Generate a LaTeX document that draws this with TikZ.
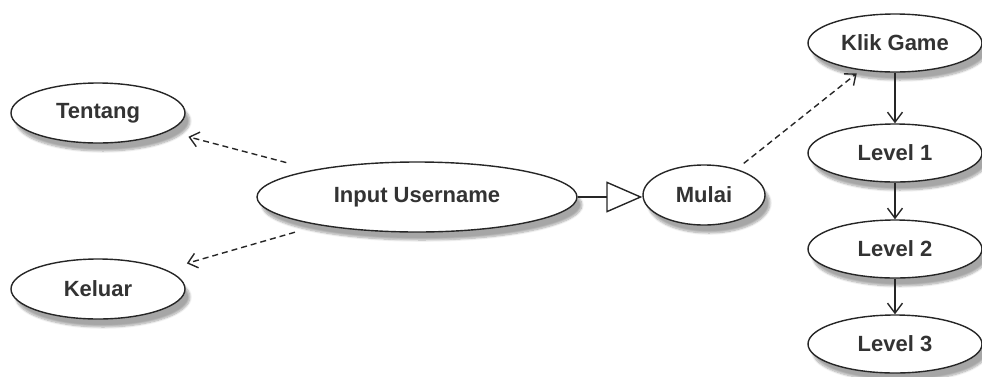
\documentclass[tikz,border=0pt]{standalone}
\usepackage{fontspec}
\setmainfont{Liberation Sans}
\usetikzlibrary{shapes.geometric,arrows.meta,shadows.blur}
\tikzset{
  usecase/.style={ellipse, draw=black!85, line width=1.4pt, fill=white,
    inner sep=0pt, text=black!80,
    font=\fontsize{22}{26}\selectfont\bfseries,
    blur shadow={shadow xshift=5pt, shadow yshift=-8pt, shadow blur steps=8,
      shadow opacity=35}},
  depend/.style={draw=black!85, line width=1.4pt, dash pattern=on 6pt off 4pt,
    -{Straight Barb[length=9pt,width=15pt]}},
  flow/.style={draw=black!85, line width=1.4pt,
    -{Straight Barb[length=10pt,width=15pt]}},
  general/.style={draw=black!85, line width=1.4pt,
    -{Triangle[open,length=36pt,width=31pt,fill=white]}}
}
\begin{document}
\begin{tikzpicture}[x=1pt,y=-1pt]
  \useasboundingbox (0,0) rectangle (982,376);
  % use cases
  \node[usecase, minimum width=174pt, minimum height=60pt] (tentang) at (98,113) {Tentang};
  \node[usecase, minimum width=174pt, minimum height=60pt] (keluar) at (98,289) {Keluar};
  \node[usecase, minimum width=320pt, minimum height=70pt] (input) at (417,197) {Input Username};
  \node[usecase, minimum width=122pt, minimum height=60pt] (mulai) at (704,195) {Mulai};
  \node[usecase, minimum width=174pt, minimum height=58pt] (klik) at (895,43) {Klik Game};
  \node[usecase, minimum width=174pt, minimum height=58pt] (lv1) at (895,153) {Level 1};
  \node[usecase, minimum width=174pt, minimum height=58pt] (lv2) at (895,249) {Level 2};
  \node[usecase, minimum width=174pt, minimum height=58pt] (lv3) at (895,344) {Level 3};
  % dependencies
  \draw[depend, shorten <=28pt, shorten >=21pt] (input) -- (tentang);
  \draw[depend, shorten <=25pt, shorten >=22pt] (input) -- (keluar);
  \draw[depend, shorten <=9pt, shorten >=5pt] (mulai) -- (klik);
  % generalization
  \draw[general] (input.east) -- (input.east -| mulai.west);
  % level sequence
  \draw[flow] (klik) -- (lv1);
  \draw[flow] (lv1) -- (lv2);
  \draw[flow] (lv2) -- (lv3);
\end{tikzpicture}
\end{document}
